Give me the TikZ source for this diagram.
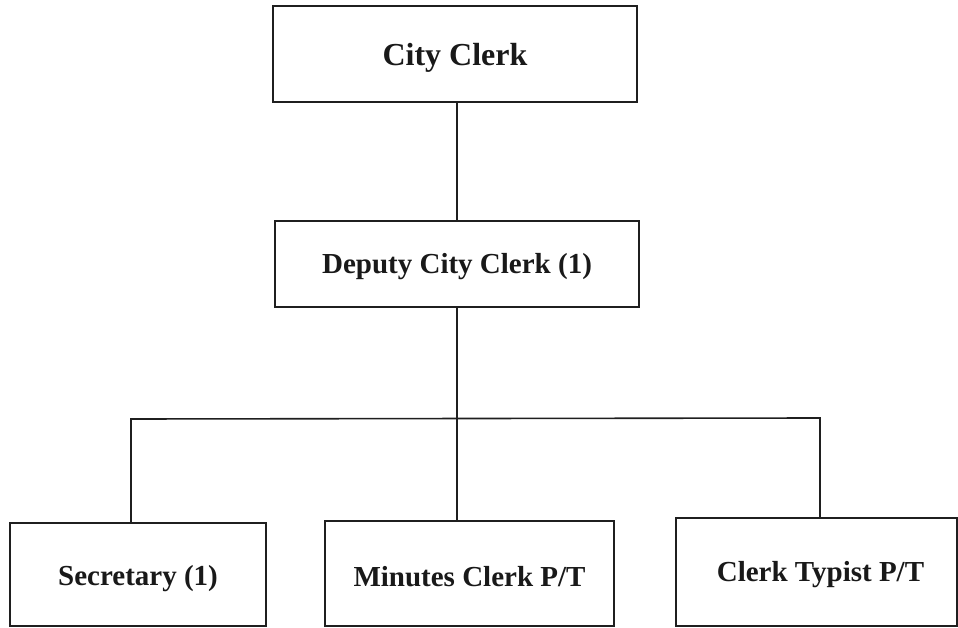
\documentclass[tikz,border=0pt]{standalone}
\usepackage{fontspec}
\setmainfont{Liberation Serif}
\begin{document}
\begin{tikzpicture}[x=1pt,y=-1pt,
  orgbox/.style={draw=black!88, line width=2pt, fill=white, rectangle, inner sep=0pt},
  lbl/.style={inner sep=0pt, font=\fontsize{29}{34}\selectfont\bfseries, text=black!90},
  link/.style={draw=black!88, line width=1.6pt}]
\useasboundingbox (0,0) rectangle (958,628);
\fill[white] (0,0) rectangle (958,628);

% boxes of the chart
\node[orgbox, minimum width=364pt, minimum height=96pt] (cc) at (455,54) {};
\node[orgbox, minimum width=364pt, minimum height=86pt] (dep) at (457,264) {};
\node[orgbox, minimum width=256pt, minimum height=103pt] (sec) at (138,574.5) {};
\node[orgbox, minimum width=289pt, minimum height=105pt] (min) at (469.5,573.5) {};
\node[orgbox, minimum width=281pt, minimum height=108pt] (typ) at (816.5,572) {};

% labels, set a little below the centre of each box
\node[lbl, font=\fontsize{32}{36}\selectfont\bfseries] (cct) at ([yshift=-4pt]cc.center) {City Clerk};
\node[lbl] (dept) at ([yshift=-3pt]dep.center) {Deputy City Clerk (1)};
\node[lbl] (sect) at ([yshift=-4pt]sec.center) {Secretary (1)};
\node[lbl] (mint) at ([yshift=-3pt]min.center) {Minutes Clerk P/T};
\node[lbl] (typt) at ([xshift=4pt,yshift=-3pt]typ.center) {Clerk Typist P/T};

% bus of the lower level
\coordinate (jl) at (131,419);
\coordinate (jr) at (820,418);

% connectors
\draw[link] (dep.north) -- (dep.north |- cc.south);
\draw[link] (dep.south) -- (dep.south |- min.north);
\draw[link] (jl |- sec.north) -- (jl) -- (jr) -- (jr |- typ.north);
\end{tikzpicture}
\end{document}
